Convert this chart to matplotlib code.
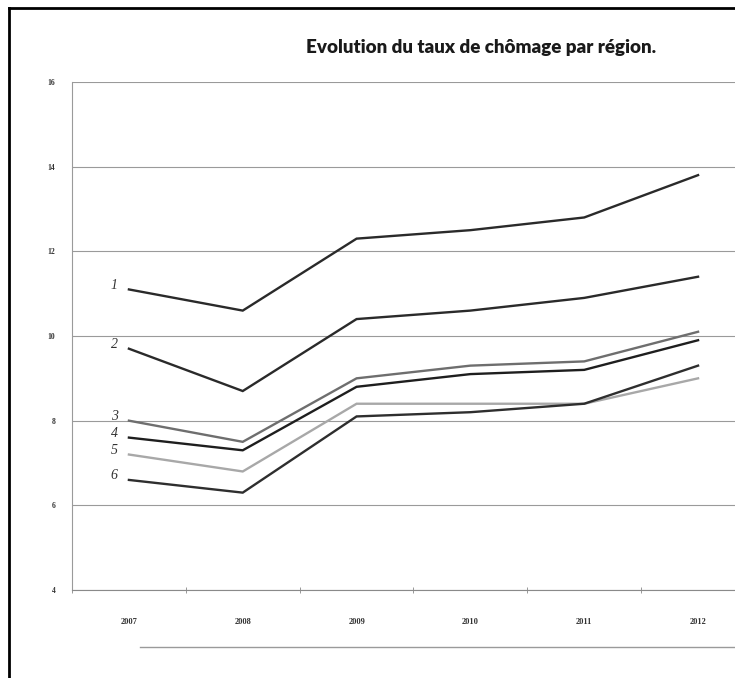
import matplotlib; matplotlib.use("Agg")
import matplotlib.pyplot as plt
from matplotlib.lines import Line2D

# ---- data -----------------------------------------------------------------------------------
years = ["2007", "2008", "2009", "2010", "2011", "2012"]
region_1 = [11.1, 10.6, 12.3, 12.5, 12.8, 13.8]
region_2 = [9.7, 8.7, 10.4, 10.6, 10.9, 11.4]
region_3 = [8.0, 7.5, 9.0, 9.3, 9.4, 10.1]
region_4 = [7.6, 7.3, 8.8, 9.1, 9.2, 9.9]
region_5 = [7.2, 6.8, 8.4, 8.4, 8.4, 9.0]
region_6 = [6.6, 6.3, 8.1, 8.2, 8.4, 9.3]
hand_labels = ["1", "2", "3", "4", "5", "6"]
y_ticks = [4, 6, 8, 10, 12, 14, 16]

series = [region_1, region_2, region_3, region_4, region_5, region_6]
cols = ["#2a2a2a", "#2a2a2a", "#6e6e6e", "#1e1e1e", "#a8a8a8", "#2e2e2e"]

fig = plt.figure(figsize=(7.35, 6.78), dpi=100)
ax = fig.add_axes([72 / 735, 88 / 678, 1 - 72 / 735, 508 / 678])
x = list(range(len(years)))

for vals, c, lab in zip(series, cols, hand_labels):
    ax.plot(x, vals, color=c, lw=1.7, solid_joinstyle="miter")
    ax.annotate(lab, (x[0], vals[0]), xytext=(-8, 3), textcoords="offset points",
                ha="right", va="center", fontsize=10, style="italic",
                family="Liberation Serif", color="#333333")

ax.set_ylim(4, 16)
ax.set_xlim(-0.49, (735 - 128) / 114)
ax.set_yticks(y_ticks)
ax.set_yticklabels([str(v) for v in y_ticks], fontsize=5.5, family="Liberation Serif",
                   color="#333333", fontweight="bold")
ax.set_xticks(x)
ax.set_xticklabels(years, fontsize=6, family="Liberation Serif", color="#333333", fontweight="bold")
ax.set_xticks([i + 0.5 for i in range(-1, 5)], minor=True)
ax.tick_params(axis="x", which="major", length=0, pad=20)
ax.tick_params(axis="x", which="minor", length=5, direction="inout", color="#888888")
ax.tick_params(axis="y", length=0, pad=12)
ax.grid(axis="y", color="#9a9a9a", lw=0.8)
ax.set_axisbelow(True)
for s in ["top", "right"]:
    ax.spines[s].set_visible(False)
ax.spines["left"].set_color("#9a9a9a")
ax.spines["bottom"].set_color("#8a8a8a")

fig.text(481 / 735, 1 - 48 / 678, "Evolution du taux de chômage par région.",
         ha="center", va="center", fontsize=13.5, fontweight="heavy", family="Lato", color="#1a1a1a")

# scanned page: box edge on top/left and a faint rule under the chart
fig.add_artist(Line2D([9 / 735, 9 / 735], [0, 1 - 8 / 678], color="black", lw=2))
fig.add_artist(Line2D([9 / 735, 1], [1 - 8 / 678, 1 - 8 / 678], color="black", lw=2))
fig.add_artist(Line2D([140 / 735, 1], [31 / 678, 31 / 678], color="#9a9a9a", lw=1))

fig.savefig("out.png", dpi=100, facecolor="white")
